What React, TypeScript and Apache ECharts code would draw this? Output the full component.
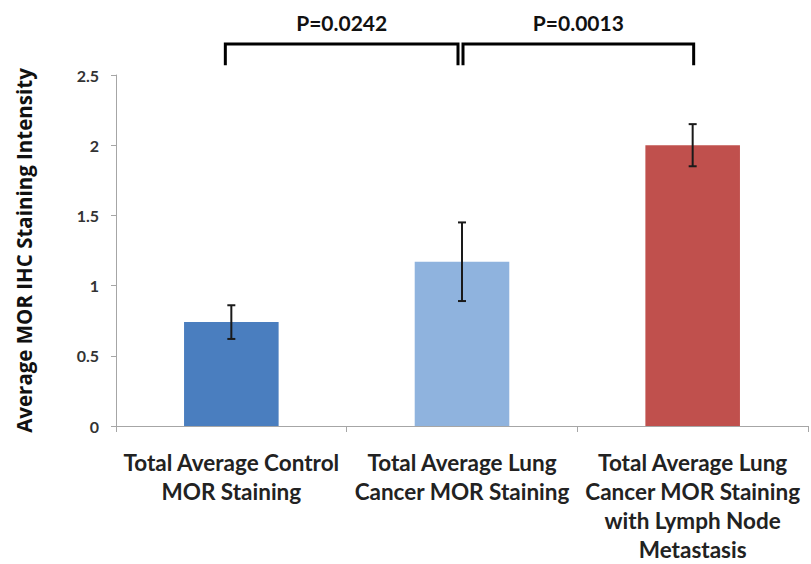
import React, { useEffect, useRef } from "react";
import * as echarts from "echarts";

const categories = [
  "Total Average Control\nMOR Staining",
  "Total Average Lung\nCancer MOR Staining",
  "Total Average Lung\nCancer MOR Staining\nwith Lymph Node\nMetastasis",
];
const means = [0.74, 1.17, 2.0];
const errLow = [0.62, 0.89, 1.85];
const errHigh = [0.86, 1.45, 2.15];
const barColors = ["#4A7EBF", "#8FB3DE", "#C0504D"];
const yTicks = [0, 0.5, 1, 1.5, 2, 2.5];
const comparisons: [number, number][] = [
  [0, 1],
  [1, 2],
];
const pLabels = ["P=0.0242", "P=0.0013"];
const bracketTop = 2.72;
const bracketBottom = 2.57;

export default function App() {
  const ref = useRef<HTMLDivElement>(null);
  useEffect(() => {
    document.body.style.margin = "0";
    if (!ref.current) return;
    const chart = echarts.init(ref.current, null, { renderer: "svg" });
    const labelFont = "Lato, 'Open Sans', sans-serif";
    chart.setOption({
      animation: false,
      backgroundColor: "#ffffff",
      grid: { left: 116, right: 3, top: 75, bottom: 132, containLabel: false },
      xAxis: {
        type: "category",
        data: categories,
        axisLine: { lineStyle: { color: "#A6A6A6", width: 1 } },
        axisTick: { show: true, length: 6, lineStyle: { color: "#A6A6A6" } },
        axisLabel: {
          interval: 0,
          margin: 22,
          fontSize: 22.5,
          lineHeight: 29,
          fontWeight: "bold",
          fontFamily: labelFont,
          color: "#222",
        },
      },
      yAxis: {
        type: "value",
        min: 0,
        max: 2.5,
        interval: 0.5,
        name: "Average MOR IHC Staining Intensity",
        nameLocation: "middle",
        nameGap: 82,
        nameTextStyle: {
          fontSize: 20.5,
          fontWeight: "bold",
          fontFamily: "'Open Sans', sans-serif",
          color: "#111",
        },
        splitLine: { show: false },
        axisLine: { show: true, lineStyle: { color: "#A6A6A6", width: 1 } },
        axisTick: { show: true, length: 5, lineStyle: { color: "#A6A6A6" } },
        axisLabel: {
          margin: 17,
          fontSize: 16,
          fontWeight: "bold",
          fontFamily: labelFont,
          color: "#333",
          formatter: (v: number) => (yTicks.includes(v) ? String(v) : ""),
        },
      },
      series: [
        {
          type: "bar",
          barWidth: "41%",
          data: means.map((v, i) => ({ value: v, itemStyle: { color: barColors[i] } })),
        },
        {
          type: "custom",
          data: means.map((_, i) => [i, errLow[i], errHigh[i]]),
          z: 5,
          renderItem: (params: any, api: any) => {
            const x = api.value(0);
            const lo = api.coord([x, api.value(1)]);
            const hi = api.coord([x, api.value(2)]);
            const cap = 4;
            const style = { stroke: "#1a1a1a", lineWidth: 2 };
            return {
              type: "group",
              children: [
                { type: "line", shape: { x1: lo[0], y1: lo[1], x2: hi[0], y2: hi[1] }, style },
                { type: "line", shape: { x1: hi[0] - cap, y1: hi[1], x2: hi[0] + cap, y2: hi[1] }, style },
                { type: "line", shape: { x1: lo[0] - cap, y1: lo[1], x2: lo[0] + cap, y2: lo[1] }, style },
              ],
            };
          },
        },
        {
          type: "custom",
          clip: false,
          z: 6,
          data: comparisons.map((c, i) => [c[0], c[1], i]),
          renderItem: (params: any, api: any) => {
            const a = api.value(0);
            const b = api.value(1);
            const idx = api.value(2);
            const pA = api.coord([a, bracketTop]);
            const pB = api.coord([b, bracketTop]);
            const pAb = api.coord([a, bracketBottom]);
            const pBb = api.coord([b, bracketBottom]);
            const xa = pA[0] + (idx === 0 ? -6 : 1);
            const xb = pB[0] + (idx === 0 ? -4 : 1);
            const style = { stroke: "#000", lineWidth: 3, fill: null };
            return {
              type: "group",
              children: [
                {
                  type: "polyline",
                  shape: {
                    points: [
                      [xa, pAb[1]],
                      [xa, pA[1]],
                      [xb, pB[1]],
                      [xb, pBb[1]],
                    ],
                  },
                  style,
                },
                {
                  type: "text",
                  x: (xa + xb) / 2,
                  y: pA[1] - 22,
                  style: {
                    text: pLabels[idx],
                    fontSize: 21,
                    fontWeight: "bold",
                    fontFamily: labelFont,
                    fill: "#111",
                    align: "center",
                    verticalAlign: "middle",
                  },
                },
              ],
            };
          },
        },
      ],
    });
    return () => chart.dispose();
  }, []);
  return <div ref={ref} style={{ width: 811, height: 564 }} />;
}
